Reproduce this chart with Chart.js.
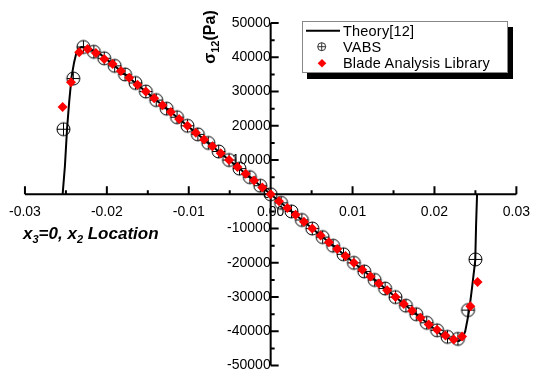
<!DOCTYPE html>
<html>
<head>
<meta charset="utf-8">
<script src="https://cdn.jsdelivr.net/npm/chart.js@4.4.1/dist/chart.umd.min.js"></script>
<style>
  html, body { margin: 0; padding: 0; background: #fff; }
  #wrap { position: relative; width: 539px; height: 382px; font-family: "Liberation Sans", Arial, sans-serif; color: #000; }
  #chart { position: absolute; left: 0; top: 0; }
  #ytitle { position: absolute; left: 210px; top: 37px; transform: translate(-50%, -50%) rotate(-90deg);
            font-weight: bold; font-size: 16px; line-height: 16px; white-space: nowrap; }
  #ytitle sub, #xtitle sub { font-size: 11px; vertical-align: -4px; line-height: 0; }
  #xtitle { position: absolute; left: 23px; top: 225px; font-weight: bold; font-style: italic;
            font-size: 17px; line-height: 17px; white-space: nowrap; }
  #legend { position: absolute; left: 302px; top: 21px; width: 206px; height: 52px; box-sizing: border-box;
            border: 1px solid #888; background: #fff; box-shadow: 5px 6px 0 #000; }
  #legend span { position: absolute; left: 40px; font-size: 14.5px; line-height: 16px; white-space: nowrap; letter-spacing: 0.2px; }
</style>
</head>
<body>
<div id="wrap">
  <canvas id="chart" width="539" height="382"></canvas>
  <div id="ytitle">σ<sub>12</sub>(Pa)</div>
  <div id="xtitle">x<sub>3</sub>=0, x<sub>2</sub> Location</div>
  <div id="legend">
    <svg width="206" height="52" style="position:absolute;left:-1px;top:-1px">
      <line x1="4" y1="9.7" x2="38" y2="9.7" stroke="#000" stroke-width="2"/>
      <circle cx="19.7" cy="25.7" r="4" fill="none" stroke="#333" stroke-width="1"/>
      <line x1="15.7" y1="25.7" x2="23.7" y2="25.7" stroke="#333" stroke-width="1"/>
      <line x1="19.7" y1="21.7" x2="19.7" y2="29.7" stroke="#333" stroke-width="1"/>
      <path d="M20 38 L24.3 42.3 L20 46.6 L15.7 42.3 Z" fill="#ff0000"/>
    </svg>
    <span style="top:0.7px">Theory[12]</span>
    <span style="top:16.7px">VABS</span>
    <span style="top:33.3px">Blade Analysis Library</span>
  </div>
</div>
<script>
// 이론 곡선 (Theory[12])
const theoryX = [-0.0254, -0.02512, -0.02486, -0.0246, -0.02431, -0.0240, -0.02375, -0.02347, -0.0231, -0.0224, -0.0216, -0.0208, 0,
                 0.0208, 0.0216, 0.0224, 0.0230, 0.0234, 0.02375, 0.0240, 0.02426, 0.0246, 0.02498, 0.02508, 0.0252];
const theoryY = [0, 8250, 19150, 27000, 34300, 38500, 41000, 42400, 43000, 42700, 41900, 40900, 0,
                 -40900, -41900, -42600, -42800, -42000, -40000, -37000, -33500, -27000, -19250, -9000, 0];

// VABS 결과
const vabsX = [-0.0253, -0.0241, -0.02286, -0.02159, -0.02032, -0.01905, -0.01778, -0.01651, -0.01524, -0.01397, -0.0127,
               -0.01143, -0.01016, -0.00889, -0.00762, -0.00635, -0.00508, -0.00381, -0.00254, -0.00127, 0,
               0.00127, 0.00254, 0.00381, 0.00508, 0.00635, 0.00762, 0.00889, 0.01016, 0.01143, 0.0127,
               0.01397, 0.01524, 0.01651, 0.01778, 0.01905, 0.02032, 0.02159, 0.02286, 0.0241, 0.0250];
const vabsY = [19000, 33800, 43000, 41600, 39700, 37500, 35000, 32500, 30000, 27500, 25000,
               22500, 20000, 17500, 15000, 12500, 10000, 7500, 5000, 2500, 0,
               -2500, -5000, -7500, -10000, -12500, -15000, -17500, -20000, -22500, -25000,
               -27500, -30000, -32500, -35000, -37500, -39700, -41600, -42200, -33800, -19000];

// Blade Analysis Library 결과
const balX = [-0.0254, -0.02438, -0.02337, -0.02235, -0.02134, -0.02032, -0.0193, -0.01829, -0.01727, -0.01626, -0.01524,
              -0.01422, -0.01321, -0.01219, -0.01118, -0.01016, -0.00914, -0.00813, -0.00711, -0.0061, -0.00508,
              -0.00406, -0.00305, -0.00203, -0.00102, 0,
              0.00102, 0.00203, 0.00305, 0.00406, 0.00508, 0.0061, 0.00711, 0.00813, 0.00914, 0.01016,
              0.01118, 0.01219, 0.01321, 0.01422, 0.01524, 0.01626, 0.01727, 0.01829, 0.0193, 0.02032,
              0.02134, 0.02235, 0.02337, 0.02438, 0.02526];
const balY = [25500, 32700, 41450, 42400, 41250, 39500, 38000, 36000, 34000, 32000, 30000,
              28000, 26000, 24000, 22000, 20000, 18000, 16000, 14000, 12000, 10000,
              8000, 6000, 4000, 2000, 0,
              -2000, -4000, -6000, -8000, -10000, -12000, -14000, -16000, -18000, -20000,
              -22000, -24000, -26000, -28000, -30000, -32000, -34000, -36000, -38000, -39500,
              -41250, -42400, -41540, -32700, -25600];

// 축 범위
const xMin = -0.03, xMax = 0.03, xStep = 0.01;
const yMin = -50000, yMax = 50000, yStep = 10000;

function toPoints(xs, ys) {
  return xs.map((x, i) => ({ x: x, y: ys[i] }));
}

// VABS 마커 (원 + 십자)
const circlePlus = document.createElement("canvas");
circlePlus.width = 17;
circlePlus.height = 17;
(function () {
  const c = circlePlus.getContext("2d");
  c.strokeStyle = "#000";
  c.lineWidth = 1;
  c.beginPath();
  c.arc(8.5, 8.5, 6.5, 0, Math.PI * 2);
  c.moveTo(2, 8.5);
  c.lineTo(15, 8.5);
  c.moveTo(8.5, 2);
  c.lineTo(8.5, 15);
  c.stroke();
})();

// 원점을 지나는 축과 눈금
const crossAxes = {
  id: "crossAxes",
  beforeDatasetsDraw(chart) {
    const { ctx, scales } = chart;
    const sx = scales.x, sy = scales.y;
    const x0 = sx.getPixelForValue(0);
    const y0 = sy.getPixelForValue(0);
    ctx.save();
    ctx.strokeStyle = "#000";
    ctx.lineWidth = 2;
    ctx.beginPath();
    ctx.moveTo(sx.left, y0);
    ctx.lineTo(sx.right, y0);
    ctx.moveTo(x0, sy.top);
    ctx.lineTo(x0, sy.bottom);
    for (let i = 0; i <= Math.round((xMax - xMin) / (xStep / 2)); i++) {
      const v = xMin + i * xStep / 2;
      const px = sx.getPixelForValue(v);
      const len = i % 2 === 0 ? 8 : 4;
      ctx.moveTo(px, y0);
      ctx.lineTo(px, y0 - len);
    }
    for (let i = 0; i <= Math.round((yMax - yMin) / (yStep / 2)); i++) {
      const v = yMin + i * yStep / 2;
      const py = sy.getPixelForValue(v);
      const len = i % 2 === 0 ? 8 : 4;
      ctx.moveTo(x0, py);
      ctx.lineTo(x0 + len, py);
    }
    ctx.stroke();
    ctx.restore();
  },
};

const tickFont = { family: "'Liberation Sans', Arial, sans-serif", size: 14 };

new Chart(document.getElementById("chart"), {
  type: "scatter",
  data: {
    datasets: [
      {
        label: "Blade Analysis Library",
        data: toPoints(balX, balY),
        pointStyle: "rectRot",
        pointRadius: 5,
        backgroundColor: "#ff0000",
        borderColor: "#ff0000",
        borderWidth: 0,
        order: 0,
      },
      {
        label: "VABS",
        data: toPoints(vabsX, vabsY),
        pointStyle: circlePlus,
        order: 1,
      },
      {
        label: "Theory[12]",
        data: toPoints(theoryX, theoryY),
        showLine: true,
        borderColor: "#000",
        borderWidth: 2,
        pointRadius: 0,
        tension: 0,
        order: 2,
      },
    ],
  },
  options: {
    responsive: false,
    animation: false,
    devicePixelRatio: 1,
    layout: { padding: { left: 23, right: 13, top: 23, bottom: 8 } },
    plugins: { legend: { display: false }, tooltip: { enabled: false } },
    scales: {
      x: {
        type: "linear",
        position: { y: 0 },
        min: xMin,
        max: xMax,
        grid: { display: false, drawTicks: false },
        border: { display: false },
        ticks: {
          stepSize: xStep,
          autoSkip: false,
          maxRotation: 0,
          minRotation: 0,
          padding: 9,
          color: "#000",
          font: tickFont,
          callback: (v) => (Math.abs(v) < 1e-12 ? "0.00" : v.toFixed(2)),
        },
        afterFit: (s) => { s.height = 0; },
      },
      y: {
        type: "linear",
        position: { x: 0 },
        min: yMin,
        max: yMax,
        grid: { display: false, drawTicks: false },
        border: { display: false },
        ticks: {
          stepSize: yStep,
          autoSkip: false,
          padding: 8,
          color: "#000",
          font: tickFont,
          callback: (v) => String(v),
        },
        afterFit: (s) => { s.width = 0; },
      },
    },
  },
  plugins: [crossAxes],
});
</script>
</body>
</html>
